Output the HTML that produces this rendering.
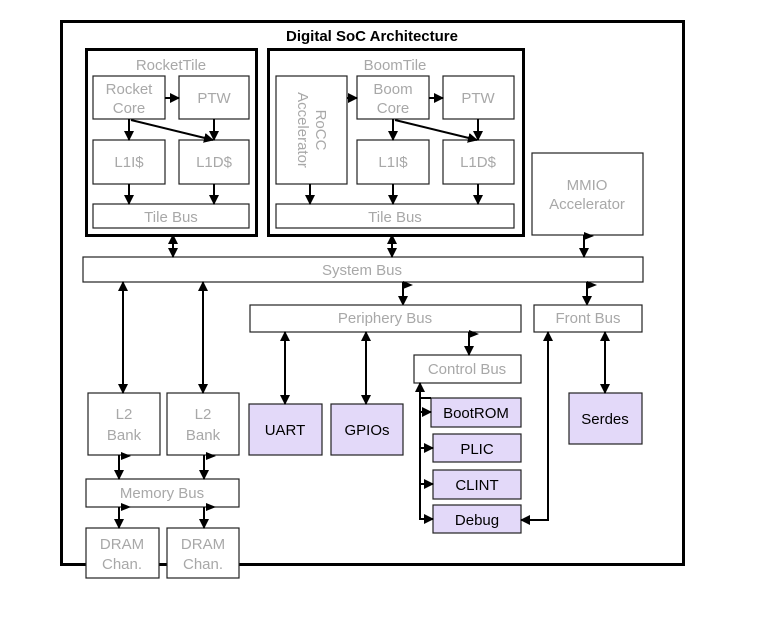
<!DOCTYPE html>
<html><head><style>
html,body{margin:0;padding:0;background:#fff;}
svg{display:block;}
text{font-family:"Liberation Sans",sans-serif;}
.g{fill:#a8a8a8;font-size:15px;text-anchor:middle;}
.k{fill:#000;font-size:15px;text-anchor:middle;}
.b{fill:#fff;stroke:#222;stroke-width:1.2;}
.p{fill:#e3d9f9;stroke:#222;stroke-width:1.2;}
.l{stroke:#000;stroke-width:2;fill:none;}
</style></head><body>
<svg width="780" height="631" viewBox="0 0 780 631" xmlns="http://www.w3.org/2000/svg">
<defs>
<marker id="a" markerWidth="10" markerHeight="10" refX="9" refY="5" orient="auto" markerUnits="userSpaceOnUse"><path d="M0,0 L10,5 L0,10 z" fill="#000"/></marker>
<marker id="s" markerWidth="10" markerHeight="10" refX="9" refY="5" orient="auto-start-reverse" markerUnits="userSpaceOnUse"><path d="M0,0 L10,5 L0,10 z" fill="#000"/></marker>
</defs>
<rect x="61.5" y="21.5" width="622" height="543" fill="#fff" stroke="#000" stroke-width="3"/>
<text x="372" y="41" style="font-size:15px;font-weight:bold;text-anchor:middle">Digital SoC Architecture</text>

<rect x="86.5" y="49.5" width="170" height="186" fill="none" stroke="#000" stroke-width="3"/>
<text class="g" x="171" y="70">RocketTile</text>
<rect class="b" x="93" y="76" width="72" height="43"/><text class="g" x="129" y="94">Rocket</text><text class="g" x="129" y="113">Core</text>
<rect class="b" x="179" y="76" width="70" height="43"/><text class="g" x="214" y="103">PTW</text>
<rect class="b" x="93" y="140" width="72" height="44"/><text class="g" x="129" y="167">L1I$</text>
<rect class="b" x="179" y="140" width="70" height="44"/><text class="g" x="214" y="167">L1D$</text>
<rect class="b" x="93" y="204" width="156" height="24"/><text class="g" x="171" y="222">Tile Bus</text>
<line class="l" x1="165" y1="98" x2="179" y2="98" marker-end="url(#a)"/>
<line class="l" x1="129" y1="119" x2="129" y2="140" marker-end="url(#a)"/>
<line class="l" x1="214" y1="119" x2="214" y2="140" marker-end="url(#a)"/>
<line class="l" x1="131" y1="120" x2="213" y2="140" marker-end="url(#a)"/>
<line class="l" x1="129" y1="184" x2="129" y2="204" marker-end="url(#a)"/>
<line class="l" x1="214" y1="184" x2="214" y2="204" marker-end="url(#a)"/>

<rect x="268.5" y="49.5" width="255" height="186" fill="none" stroke="#000" stroke-width="3"/>
<text class="g" x="395" y="70">BoomTile</text>
<rect class="b" x="276" y="76" width="71" height="108"/>
<text class="g" transform="translate(316,130) rotate(90)" x="0" y="0">RoCC</text>
<text class="g" transform="translate(298,130) rotate(90)" x="0" y="0">Accelerator</text>
<rect class="b" x="357" y="76" width="72" height="43"/><text class="g" x="393" y="94">Boom</text><text class="g" x="393" y="113">Core</text>
<rect class="b" x="443" y="76" width="71" height="43"/><text class="g" x="478" y="103">PTW</text>
<rect class="b" x="357" y="140" width="72" height="44"/><text class="g" x="393" y="167">L1I$</text>
<rect class="b" x="443" y="140" width="71" height="44"/><text class="g" x="478" y="167">L1D$</text>
<rect class="b" x="276" y="204" width="238" height="24"/><text class="g" x="395" y="222">Tile Bus</text>
<line class="l" x1="347" y1="98" x2="357" y2="98" marker-end="url(#a)"/>
<line class="l" x1="429" y1="98" x2="443" y2="98" marker-end="url(#a)"/>
<line class="l" x1="393" y1="119" x2="393" y2="140" marker-end="url(#a)"/>
<line class="l" x1="478" y1="119" x2="478" y2="140" marker-end="url(#a)"/>
<line class="l" x1="395" y1="120" x2="477" y2="140" marker-end="url(#a)"/>
<line class="l" x1="310" y1="184" x2="310" y2="204" marker-end="url(#a)"/>
<line class="l" x1="393" y1="184" x2="393" y2="204" marker-end="url(#a)"/>
<line class="l" x1="478" y1="184" x2="478" y2="204" marker-end="url(#a)"/>

<rect class="b" x="532" y="153" width="111" height="82"/>
<text class="g" x="587" y="190">MMIO</text><text class="g" x="587" y="209">Accelerator</text>

<rect class="b" x="83" y="257" width="560" height="25"/><text class="g" x="362" y="275">System Bus</text>
<line class="l" x1="173" y1="235" x2="173" y2="257" marker-start="url(#s)" marker-end="url(#a)"/>
<line class="l" x1="392" y1="235" x2="392" y2="257" marker-start="url(#s)" marker-end="url(#a)"/>
<line class="l" x1="584" y1="235" x2="584" y2="257" marker-end="url(#a)"/><path d="M584,232 l10,4 l-10,4z" fill="#000"/>
<line class="l" x1="403" y1="282" x2="403" y2="305" marker-end="url(#a)"/><path d="M403,281 l10,4 l-10,4z" fill="#000"/>
<line class="l" x1="587" y1="282" x2="587" y2="305" marker-end="url(#a)"/><path d="M587,281 l10,4 l-10,4z" fill="#000"/>

<rect class="b" x="250" y="305" width="271" height="27"/><text class="g" x="385" y="323">Periphery Bus</text>
<rect class="b" x="534" y="305" width="108" height="27"/><text class="g" x="588" y="323">Front Bus</text>
<rect class="b" x="414" y="355" width="107" height="28"/><text class="g" x="467" y="374">Control Bus</text>
<line class="l" x1="469" y1="332" x2="469" y2="355" marker-end="url(#a)"/><path d="M469,330 l10,4 l-10,4z" fill="#000"/>

<rect class="p" x="249" y="404" width="73" height="51"/><text class="k" x="285" y="435">UART</text>
<rect class="p" x="331" y="404" width="72" height="51"/><text class="k" x="367" y="435">GPIOs</text>
<line class="l" x1="285" y1="332" x2="285" y2="404" marker-start="url(#s)" marker-end="url(#a)"/>
<line class="l" x1="366" y1="332" x2="366" y2="404" marker-start="url(#s)" marker-end="url(#a)"/>

<rect class="p" x="431" y="398" width="90" height="29"/><text class="k" x="476" y="418">BootROM</text>
<rect class="p" x="433" y="434" width="88" height="28"/><text class="k" x="477" y="454">PLIC</text>
<rect class="p" x="433" y="470" width="88" height="29"/><text class="k" x="477" y="490">CLINT</text>
<rect class="p" x="433" y="505" width="88" height="28"/><text class="k" x="477" y="525">Debug</text>
<line class="l" x1="420" y1="383" x2="420" y2="520" marker-start="url(#s)"/>
<line class="l" x1="420" y1="398" x2="431" y2="398"/>
<line class="l" x1="420" y1="412" x2="431" y2="412" marker-end="url(#a)"/>
<line class="l" x1="420" y1="448" x2="433" y2="448" marker-end="url(#a)"/>
<line class="l" x1="420" y1="484" x2="433" y2="484" marker-end="url(#a)"/>
<line class="l" x1="419" y1="519" x2="433" y2="519" marker-end="url(#a)"/>
<path class="l" d="M548,332 L548,520 L521,520" marker-start="url(#s)" marker-end="url(#a)"/>

<rect class="p" x="569" y="393" width="73" height="51"/><text class="k" x="605" y="424">Serdes</text>
<line class="l" x1="605" y1="332" x2="605" y2="393" marker-start="url(#s)" marker-end="url(#a)"/>

<rect class="b" x="88" y="393" width="72" height="62"/><text class="g" x="124" y="419">L2</text><text class="g" x="124" y="440">Bank</text>
<rect class="b" x="167" y="393" width="72" height="62"/><text class="g" x="203" y="419">L2</text><text class="g" x="203" y="440">Bank</text>
<line class="l" x1="123" y1="282" x2="123" y2="393" marker-start="url(#s)" marker-end="url(#a)"/>
<line class="l" x1="203" y1="282" x2="203" y2="393" marker-start="url(#s)" marker-end="url(#a)"/>
<rect class="b" x="86" y="479" width="153" height="28"/><text class="g" x="162" y="498">Memory Bus</text>
<line class="l" x1="119" y1="455" x2="119" y2="479" marker-end="url(#a)"/><path d="M121,452 l10,4 l-10,4z" fill="#000"/>
<line class="l" x1="204" y1="455" x2="204" y2="479" marker-end="url(#a)"/><path d="M206,452 l10,4 l-10,4z" fill="#000"/>
<rect class="b" x="86" y="528" width="73" height="50"/><text class="g" x="122" y="549">DRAM</text><text class="g" x="122" y="569">Chan.</text>
<rect class="b" x="167" y="528" width="72" height="50"/><text class="g" x="203" y="549">DRAM</text><text class="g" x="203" y="569">Chan.</text>
<line class="l" x1="119" y1="507" x2="119" y2="528" marker-end="url(#a)"/><path d="M121,503 l10,4 l-10,4z" fill="#000"/>
<line class="l" x1="204" y1="507" x2="204" y2="528" marker-end="url(#a)"/><path d="M206,503 l10,4 l-10,4z" fill="#000"/>
</svg>
</body></html>
